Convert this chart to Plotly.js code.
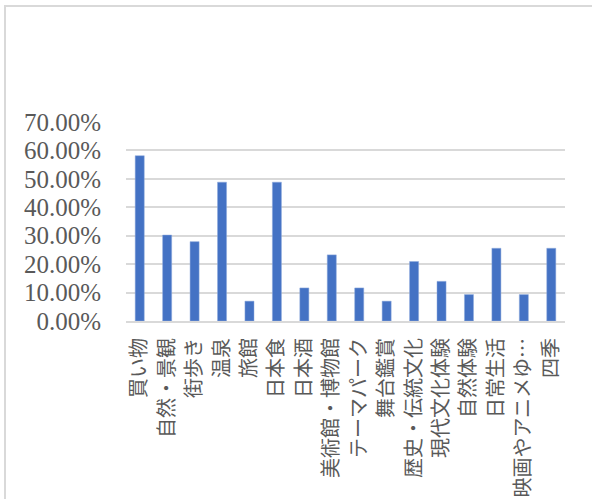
<!DOCTYPE html>
<html>
<head>
<meta charset="utf-8">
<script src="https://cdn.plot.ly/plotly-3.0.1.min.js"></script>
<style>
html,body{margin:0;padding:0;background:#fff;overflow:hidden;}
#frame{position:absolute;left:4px;top:5px;width:700px;height:600px;border-left:2px solid #d9d9d9;border-top:2px solid #d9d9d9;}
#chart{position:absolute;left:0;top:0;width:592px;height:499px;}
</style>
</head>
<body>
<div id="frame"></div>
<div id="chart"></div>
<script>
const categories = ["買い物","自然・景観","街歩き","温泉","旅館","日本食","日本酒","美術館・博物館","テーマパーク","舞台鑑賞","歴史・伝統文化","現代文化体験","自然体験","日常生活","映画やアニメゆ…","四季"];
const values = [0.5814,0.3023,0.2791,0.4884,0.0698,0.4884,0.1163,0.2326,0.1163,0.0698,0.2093,0.1395,0.0930,0.2558,0.0930,0.2558];
const yTicks = [0,0.1,0.2,0.3,0.4,0.5,0.6,0.7];

const trace = {
  type: 'bar',
  x: categories,
  y: values,
  marker: {color: '#4472c4', line: {color: '#8faadc', width: 0.5}},
  hoverinfo: 'skip'
};
const layout = {
  width: 592, height: 499,
  margin: {l: 126, r: 27, t: 122, b: 178},
  paper_bgcolor: 'rgba(0,0,0,0)',
  plot_bgcolor: 'rgba(0,0,0,0)',
  bargap: 0.67,
  showlegend: false,
  font: {family: '"Liberation Serif", "Noto Sans CJK JP", serif', color: '#595959'},
  xaxis: {
    type: 'category',
    tickangle: -90,
    tickfont: {size: 20, family: '"Noto Sans CJK JP", sans-serif', color: '#595959'},
    showgrid: false,
    showline: true, linecolor: '#d9d9d9', linewidth: 2,
    ticks: '',
    ticklabelstandoff: 7,
    fixedrange: true
  },
  yaxis: {
    range: [0, 0.7],
    tickvals: yTicks,
    tickformat: '.2%',
    tickfont: {size: 25, color: '#595959'},
    showgrid: true, gridcolor: '#d9d9d9', gridwidth: 2,
    zeroline: false,
    showline: false,
    ticks: '',
    ticklabelstandoff: 24,
    fixedrange: true
  }
};
Plotly.newPlot('chart', [trace], layout, {displayModeBar: false, staticPlot: true});
</script>
</body>
</html>
